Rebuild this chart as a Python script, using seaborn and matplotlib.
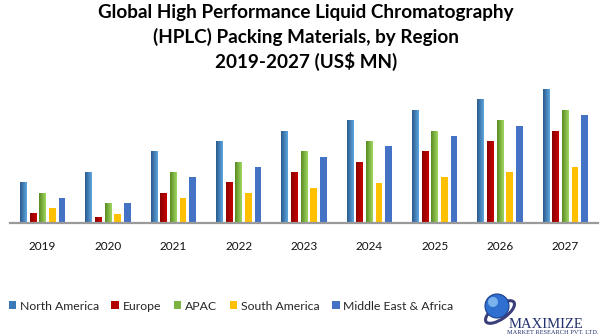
import numpy as np
import pandas as pd
import matplotlib
matplotlib.use("Agg")
import matplotlib.pyplot as plt
from matplotlib.colors import LinearSegmentedColormap
from matplotlib.patches import Patch, Circle, Ellipse
import seaborn as sns

years = ["2019", "2020", "2021", "2022", "2023", "2024", "2025", "2026", "2027"]
regions = ["North America", "Europe", "APAC", "South America", "Middle East & Africa"]
north_america = [41, 51, 72, 82, 92, 103, 113, 124, 134]
europe = [10, 6, 30, 41, 51, 61, 72, 82, 92]
apac = [30, 20, 51, 61, 72, 82, 92, 103, 113]
south_america = [15, 9, 25, 30, 35, 40, 46, 51, 56]
middle_east_africa = [25, 20, 46, 56, 66, 77, 87, 97, 108]

series = [north_america, europe, apac, south_america, middle_east_africa]
df = pd.DataFrame({
    "Year": years * len(regions),
    "Region": [r for r in regions for _ in years],
    "Value": [v for s in series for v in s],
})

colors = ["#3f7fbf", "#b00000", "#7cb342", "#ffc000", "#4472c4"]
gradients = [
    ("#2a5a8c", "#5ea6e0"),
    ("#8a0000", "#c80000"),
    ("#5a8a22", "#a0d860"),
    None,
    None,
]

sns.set_theme(style="white")
plt.rcParams["font.family"] = ["Lato", "DejaVu Sans"]

W, H = 610, 335
fig = plt.figure(figsize=(W / 100, H / 100), dpi=100)
fig.patch.set_facecolor("white")
base_y = 223.3
ax = fig.add_axes([10 / W, 1 - base_y / H, 588 / W, 140 / H])

sns.barplot(data=df, x="Year", y="Value", hue="Region", hue_order=regions,
            palette=colors, width=0.74, gap=0.28, saturation=1,
            legend=False, errorbar=None, ax=ax, linewidth=0)

grad = np.linspace(0, 1, 64).reshape(1, -1)
for cont, g in zip(ax.containers, gradients):
    for bar in cont:
        bar.set_edgecolor("none")
        if g is None:
            continue
        cmap = LinearSegmentedColormap.from_list("g", list(g))
        x0, y0 = bar.get_x(), bar.get_y()
        w, h = bar.get_width(), bar.get_height()
        im = ax.imshow(grad, extent=(x0, x0 + w, y0, y0 + h), aspect="auto",
                       cmap=cmap, origin="lower", zorder=bar.get_zorder() + 0.1,
                       interpolation="bilinear")
        im.set_clip_path(bar)

ax.set_xlim(-0.5, 8.5)
ax.set_ylim(0, 140)
ax.set_xlabel("")
ax.set_ylabel("")
ax.set_yticks([])
for s in ["top", "right", "left"]:
    ax.spines[s].set_visible(False)
ax.spines["bottom"].set_color("#9a9a9a")
ax.spines["bottom"].set_linewidth(1.6)
ax.spines["bottom"].set_zorder(5)
ax.tick_params(axis="x", length=0, pad=12.5, labelsize=8.5, labelcolor="#111111")
ax.set_facecolor("white")

# Title
title_lines = ["Global High Performance Liquid Chromatography",
               "(HPLC) Packing Materials, by Region",
               "2019-2027 (US$ MN)"]
for line, yb in zip(title_lines, [17.8, 42.8, 67.8]):
    fig.text(306 / W, 1 - yb / H, line, ha="center", va="baseline",
             fontsize=13.6, fontweight="bold", color="#000000")

# Legend
leg_colors = ["#3a78b8", "#b00000", "#7cb342", "#ffc000", "#4472c4"]
handles = [Patch(facecolor=c, edgecolor="none") for c in leg_colors]
fig.legend(handles, regions, loc="center left", bbox_to_anchor=(8.5 / W, 1 - 306 / H),
           ncol=5, frameon=False, fontsize=8.8, handlelength=0.6, handleheight=0.6,
           handletextpad=0.3, columnspacing=1.05, borderaxespad=0, borderpad=0)

# Logo
lax = fig.add_axes([0, 0, 1, 1], zorder=-1)
lax.set_xlim(0, W)
lax.set_ylim(H, 0)
lax.axis("off")
lax.add_patch(Ellipse((500, 312), 34, 14, angle=-35, facecolor="none",
                      edgecolor="#3a3f7a", linewidth=2.2))
lax.add_patch(Circle((497, 306), 12, facecolor="#2f6fd0", edgecolor="#1c3f8a", linewidth=0.8))
lax.add_patch(Circle((493, 302), 5, facecolor="#8fc4f5", edgecolor="none", alpha=0.8))
fig.text(509 / W, 1 - 328 / H, "MAXIMIZE", fontsize=10.5, family="Liberation Serif",
         color="#23306e", ha="left", va="baseline")
fig.text(507 / W, 1 - 334 / H, "MARKET RESEARCH PVT. LTD.", fontsize=4.6,
         family="Liberation Serif", color="#23306e", ha="left", va="baseline")

fig.savefig("out.png", dpi=100, facecolor="white")
